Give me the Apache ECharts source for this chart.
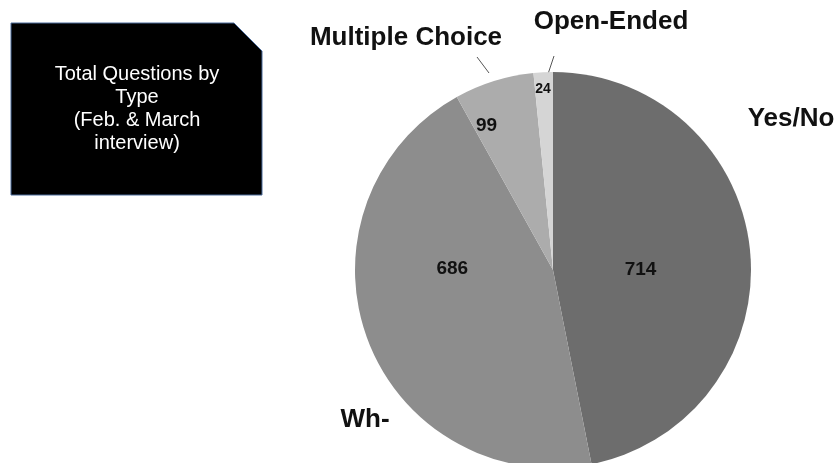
<!DOCTYPE html>
<html>
<head>
<meta charset="utf-8">
<script src="https://cdn.jsdelivr.net/npm/echarts@6/dist/echarts.min.js"></script>
<style>
html, body { margin: 0; padding: 0; background: #fff; }
#main { width: 838px; height: 463px; }
</style>
</head>
<body>
<div id="main"></div>
<script>
var categories = ['Yes/No', 'Wh-', 'Multiple Choice', 'Open-Ended'];
var counts = [714, 686, 99, 24];
var titleLines = ['Total Questions by', 'Type', '(Feb. & March', 'interview)'];

var sliceColors = ['#6d6d6d', '#8d8d8d', '#acacac', '#d5d5d5'];
// nudges for the numbers inside the slices (from ECharts' default inside spot)
var valueNudge = [[-14, 10], [-5, -36], [-36, -47], [-5, -79]];
var valueSizes = [19, 19, 19, 14];
// where the category names sit, and their short leader strokes
var nameSpots = [[791, 119], [365, 420], [406, 38], [611, 22]];
var leaders = [null, null, [[477, 57], [483, 65], [489, 73]], [[554, 56], [551, 65], [548, 74]]];

var chart = echarts.init(document.getElementById('main'));

var valueData = categories.map(function (c, i) {
    return {
        name: c,
        value: counts[i],
        itemStyle: { color: sliceColors[i] },
        label: { fontSize: valueSizes[i] }
    };
});
var nameData = categories.map(function (c, i) {
    return {
        name: c,
        value: counts[i],
        labelLine: { show: leaders[i] != null }
    };
});

chart.setOption({
    animation: false,
    graphic: [
        {
            type: 'polygon',
            shape: { points: [[11, 23], [234, 23], [262, 51], [262, 195], [11, 195]] },
            style: { fill: '#000', stroke: '#4a6a9a', lineWidth: 1 },
            silent: true
        },
        {
            type: 'text',
            x: 137,
            y: 109,
            silent: true,
            style: {
                text: titleLines.join('\n'),
                fill: '#fff',
                fontFamily: '"Liberation Sans", Arial, sans-serif',
                fontSize: 20,
                lineHeight: 23,
                align: 'center',
                verticalAlign: 'middle'
            }
        }
    ],
    series: [
        {
            type: 'pie',
            center: [553, 270],
            radius: 198,
            startAngle: 90,
            silent: true,
            data: valueData,
            label: {
                show: true,
                position: 'inside',
                formatter: '{c}',
                color: '#111',
                fontWeight: 'bold',
                fontFamily: '"Liberation Sans", Arial, sans-serif'
            },
            labelLine: { show: false },
            labelLayout: function (p) {
                return { dx: valueNudge[p.dataIndex][0], dy: valueNudge[p.dataIndex][1] };
            }
        },
        {
            type: 'pie',
            center: [553, 270],
            radius: 198,
            startAngle: 90,
            silent: true,
            data: nameData,
            itemStyle: { color: 'rgba(0,0,0,0)' },
            label: {
                show: true,
                position: 'outside',
                formatter: '{b}',
                overflow: 'none',
                color: '#111',
                fontWeight: 'bold',
                fontSize: 26,
                fontFamily: '"Liberation Sans", Arial, sans-serif'
            },
            labelLine: {
                length: 8,
                length2: 0,
                lineStyle: { color: '#555', width: 1 }
            },
            labelLayout: function (p) {
                var i = p.dataIndex;
                var o = {
                    x: nameSpots[i][0],
                    y: nameSpots[i][1],
                    align: 'center',
                    verticalAlign: 'middle'
                };
                if (leaders[i]) o.labelLinePoints = leaders[i];
                return o;
            }
        }
    ]
});
</script>
</body>
</html>
